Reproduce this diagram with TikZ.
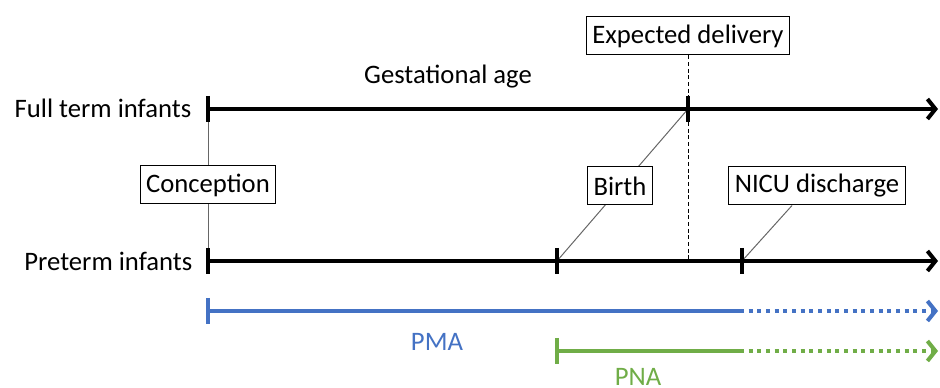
\documentclass[tikz,border=0pt]{standalone}
\usepackage{fontspec}
\setmainfont{Carlito}
\usepackage{tikz}
\usetikzlibrary{positioning, arrows.meta, calc}
\definecolor{pmablue}{HTML}{4472C4}
\definecolor{pnagreen}{HTML}{70AD47}

\begin{document}
\begin{tikzpicture}[
    x=0.75pt, y=-0.75pt,
    every node/.style={font=\fontsize{20}{24}\selectfont},
    axis/.style={line width=3pt, -{Straight Barb[length=6pt, width=15pt]}},
    tickmark/.style={line width=3pt},
    event/.style={draw, line width=0.75pt, fill=white, minimum height=28.5pt, inner xsep=4.5pt, inner ysep=0pt},
    conn/.style={line width=0.75pt, black!60},
    expected/.style={line width=0.75pt, dash pattern=on 3pt off 2pt},
    solidpart/.style={line width=3pt},
    dotpart/.style={line width=3pt, dash pattern=on 3pt off 3.5pt, -{Straight Barb[length=6pt, width=15pt]}}
]
\useasboundingbox (0,0) rectangle (940,388);

% Time points
\coordinate (ft0) at (208,109);
\coordinate (ftd) at (688,109);
\coordinate (ft1) at (938,109);
\coordinate (pt0) at (208,261);
\coordinate (ptb) at (557,261);
\coordinate (ptn) at (742,261);
\coordinate (pt1) at (938,261);
\coordinate (ptd) at (688,261);

% Row labels
\node[anchor=east] (full) at (196,108) {Full term infants};
\node[anchor=east] (pre) at (197,261) {Preterm infants};
\node (ga) at (448,77) {Gestational age};

% Thin connectors (behind boxes)
\draw[conn] (ft0) -- (pt0);
\draw[conn] (ftd) -- (ptb);

% Event boxes
\node[event] (conc) at (208,185) {Conception};
\node[event] (edel) at (688,36) {Expected delivery};
\node[event] (birth) at (620,186) {Birth};
\node[event] (nicu) at (817,186) {NICU discharge};

\draw[conn] (ptn) -- (792,0 |- nicu.south);
\draw[expected] (edel.south) -- (ptd);

% Time axes
\draw[axis] (ft0) -- (ft1);
\draw[axis] (pt0) -- (pt1);
\foreach \c in {ft0, ftd, pt0, ptb, ptn}
    \draw[tickmark] ($(\c)+(0,-13)$) -- ($(\c)+(0,13)$);

% PMA
\coordinate (pma0) at (208,311);
\coordinate (pmam) at (740,311);
\coordinate (pma1) at (938,311);
\draw[pmablue, solidpart] (pma0) -- (pmam);
\draw[pmablue, dotpart] (pmam) -- (pma1);
\draw[pmablue, tickmark] ($(pma0)+(0,-13)$) -- ($(pma0)+(0,13)$);
\node[text=pmablue, anchor=base] (pma) at (437,351) {PMA};

% PNA
\coordinate (pna0) at (557,351);
\coordinate (pnam) at (740,351);
\coordinate (pna1) at (938,351);
\draw[pnagreen, solidpart] (pna0) -- (pnam);
\draw[pnagreen, dotpart] (pnam) -- (pna1);
\draw[pnagreen, tickmark] ($(pna0)+(0,-13)$) -- ($(pna0)+(0,13)$);
\node[text=pnagreen, anchor=base, inner ysep=0pt] (pna) at (638,386) {PNA};

\end{tikzpicture}
\end{document}
